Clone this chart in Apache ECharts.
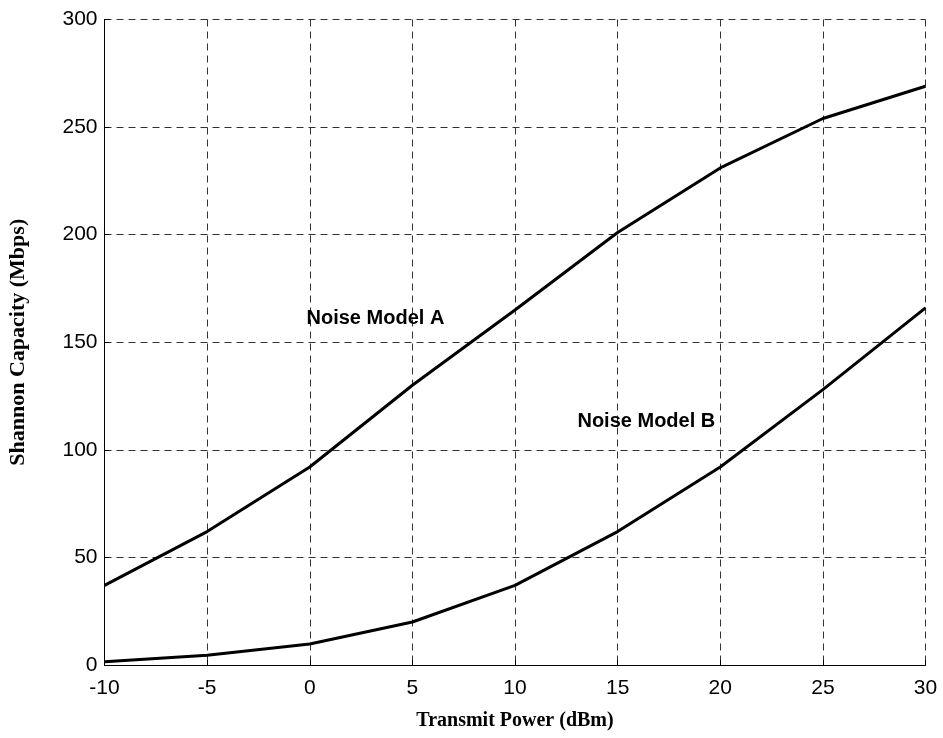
<!DOCTYPE html>
<html>
<head>
<meta charset="utf-8">
<script src="https://cdn.jsdelivr.net/npm/echarts@6/dist/echarts.min.js"></script>
<style>html,body{margin:0;padding:0;background:#fff;}#c{width:943px;height:738px;}</style>
</head>
<body>
<div id="c"></div>
<script>
var powerDbm = [-10, -5, 0, 5, 10, 15, 20, 25, 30];
var modelA = [37, 62, 92, 130, 165, 201, 231, 254, 269];
var modelB = [1.5, 4.5, 9.8, 20, 37, 62, 92, 128, 166];
var labelA = {text: 'Noise Model A', x: 3.2, y: 161};
var labelB = {text: 'Noise Model B', x: 16.4, y: 113};

function pairs(xs, ys){ return xs.map(function(x,i){ return [x, ys[i]]; }); }

var chart = echarts.init(document.getElementById('c'), null, {renderer:'canvas'});
var gridLine = {show:true, lineStyle:{color:'#333', width:1, type:[7,5]}};
var annoLabel = {show:true, color:'#000', fontFamily:'Liberation Sans, Arial, sans-serif', fontWeight:'bold', fontSize:20, letterSpacing:1.2, position:'inside'};
chart.setOption({
  animation:false,
  backgroundColor:'#fff',
  grid:{left:104.5, right:17.5, top:19.5, bottom:73, containLabel:false, outerBoundsMode:'none'},
  xAxis:{
    type:'value', min:-10, max:30, interval:5,
    name:'Transmit Power (dBm)', nameLocation:'middle', nameGap:46,
    nameTextStyle:{fontFamily:'Liberation Serif, Times New Roman, serif', fontWeight:'bold', fontSize:20, color:'#000'},
    axisLine:{show:true, onZero:false, lineStyle:{color:'#000', width:1}},
    axisTick:{show:true, inside:true, length:5, lineStyle:{color:'#000'}},
    axisLabel:{fontFamily:'Liberation Sans, Arial, sans-serif', fontSize:21, color:'#000', margin:13},
    splitLine:gridLine
  },
  yAxis:{
    type:'value', min:0, max:300, interval:50,
    name:'Shannon Capacity (Mbps)', nameLocation:'middle', nameGap:75,
    nameTextStyle:{fontFamily:'Liberation Serif, Times New Roman, serif', fontWeight:'bold', fontSize:22, color:'#000'},
    axisLine:{show:true, onZero:false, lineStyle:{color:'#000', width:1}},
    axisTick:{show:true, inside:true, length:5, lineStyle:{color:'#000'}},
    axisLabel:{fontFamily:'Liberation Sans, Arial, sans-serif', fontSize:21, color:'#000', margin:7},
    splitLine:gridLine
  },
  series:[
    {type:'line', data:pairs(powerDbm, modelA), symbol:'none', lineStyle:{color:'#000', width:3},
     markPoint:{symbol:'rect', symbolSize:1, itemStyle:{color:'rgba(0,0,0,0)'}, label:annoLabel,
       data:[{coord:[labelA.x, labelA.y], value:labelA.text, label:{formatter:labelA.text}}]}},
    {type:'line', data:pairs(powerDbm, modelB), symbol:'none', lineStyle:{color:'#000', width:3},
     markPoint:{symbol:'rect', symbolSize:1, itemStyle:{color:'rgba(0,0,0,0)'}, label:annoLabel,
       data:[{coord:[labelB.x, labelB.y], value:labelB.text, label:{formatter:labelB.text}}]}}
  ]
});
</script>
</body>
</html>
